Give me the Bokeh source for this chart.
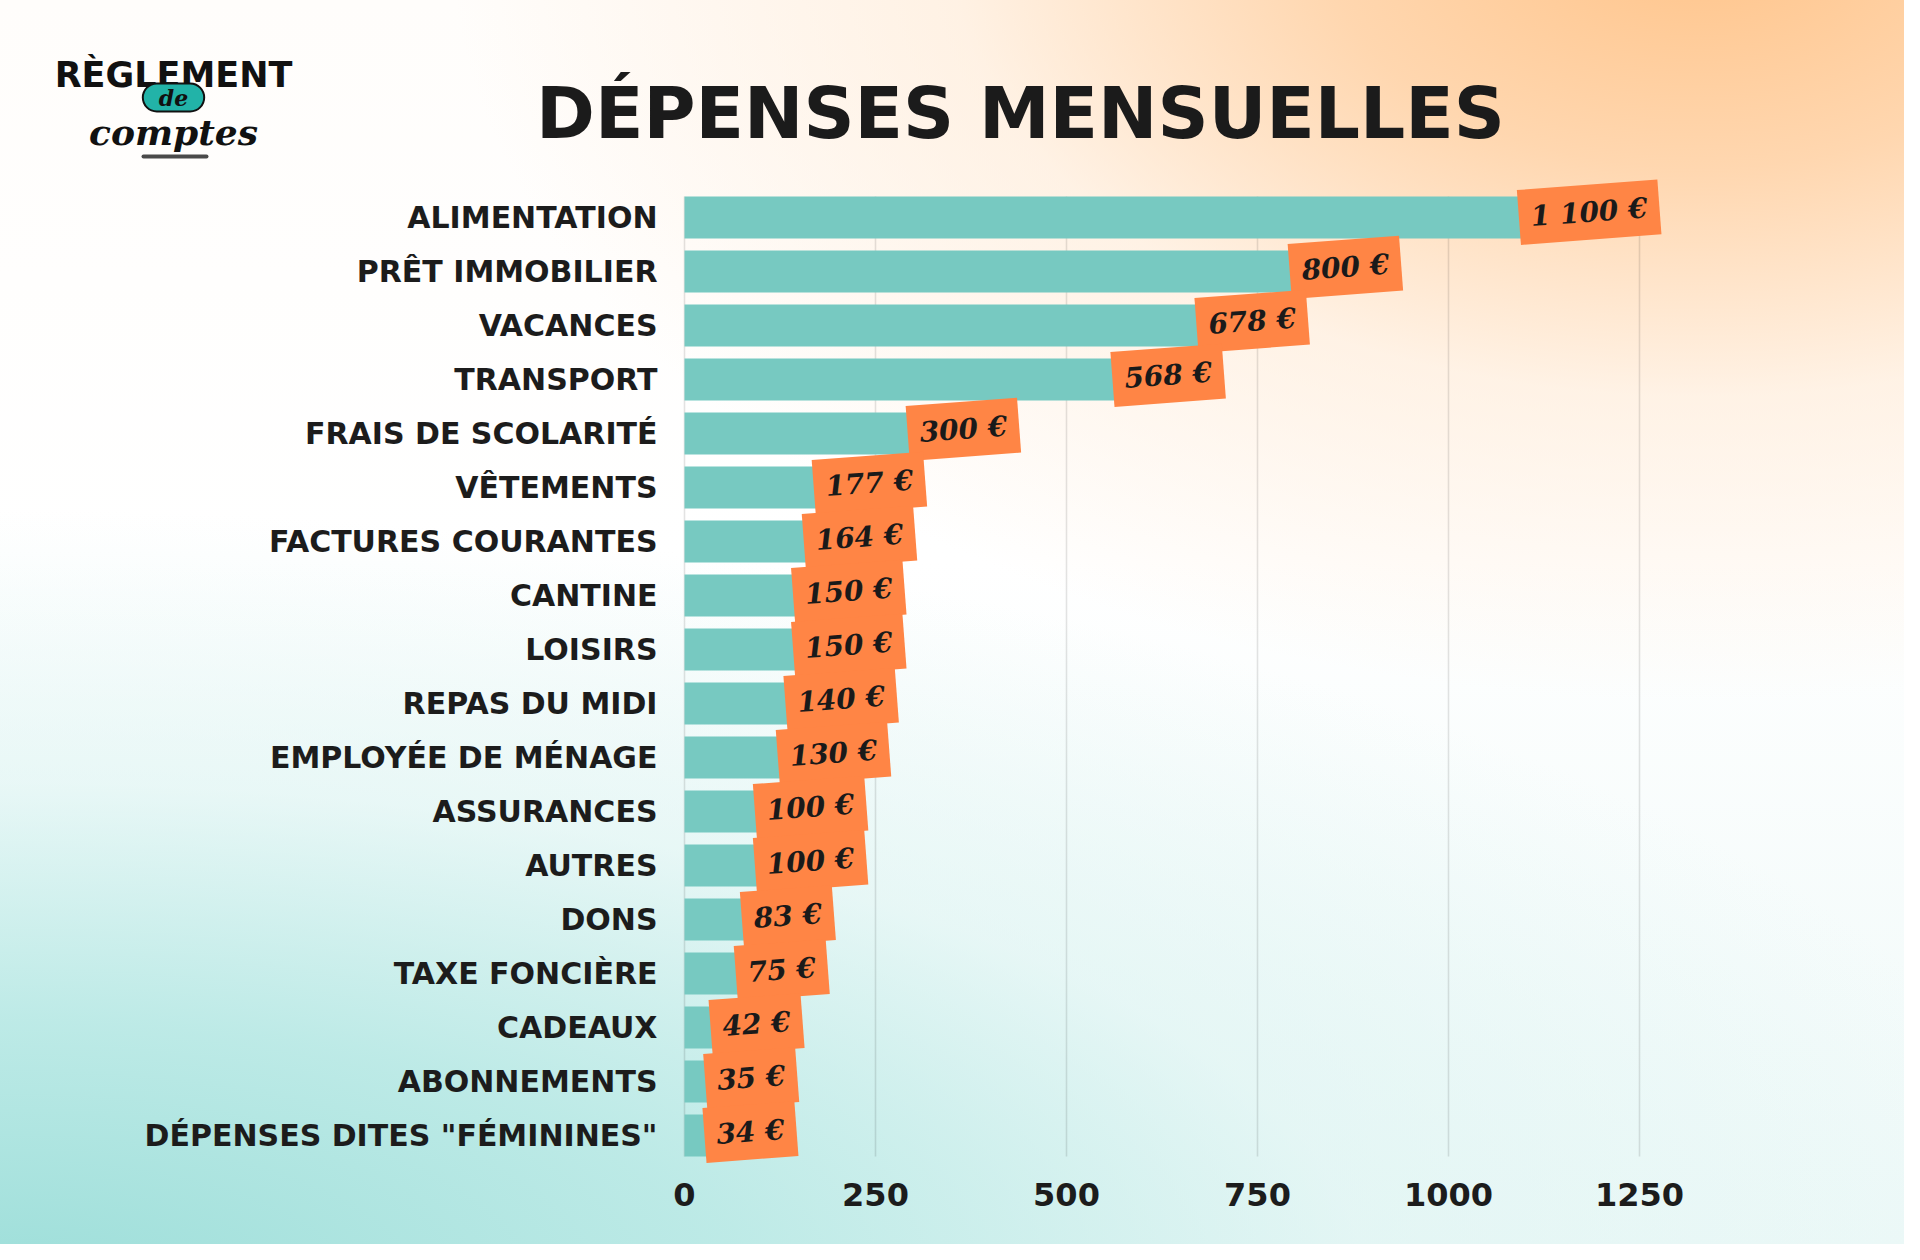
from bokeh.plotting import figure
from bokeh.models import Range1d, FixedTicker, Label, BoxAnnotation, ColumnDataSource
from bokeh.core.properties import value
from bokeh.embed import file_html
from bokeh.resources import INLINE

# ---------------- data ----------------
categories = [
    "ALIMENTATION", "PRÊT IMMOBILIER", "VACANCES", "TRANSPORT",
    "FRAIS DE SCOLARITÉ", "VÊTEMENTS", "FACTURES COURANTES", "CANTINE",
    "LOISIRS", "REPAS DU MIDI", "EMPLOYÉE DE MÉNAGE", "ASSURANCES",
    "AUTRES", "DONS", "TAXE FONCIÈRE", "CADEAUX", "ABONNEMENTS",
    'DÉPENSES DITES "FÉMININES"',
]
amounts = [1100, 800, 678, 568, 300, 177, 164, 150, 150, 140, 130, 100, 100, 83, 75, 42, 35, 34]
value_labels = ["1 100 €", "800 €", "678 €", "568 €", "300 €", "177 €", "164 €", "150 €",
                "150 €", "140 €", "130 €", "100 €", "100 €", "83 €", "75 €", "42 €", "35 €", "34 €"]
x_ticks = [0, 250, 500, 750, 1000, 1250]
title_text = "DÉPENSES MENSUELLES"
logo_top = "RÈGLEMENT"
logo_mid = "de"
logo_bottom = "comptes"

# ---------------- layout (pixel geometry of the canvas) ----------------
W, H = 1904, 1244
PX = 0.764          # pixels per euro
X0C = 684           # canvas x of 0 €
PY = 54.0           # pixels per category row
TOPC = 217          # canvas y of the first bar's centre
BAR_H = 0.78

n = len(categories)
ypos = [n - 1 - i for i in range(n)]

def dx(cx):
    return (cx - X0C) / PX

def dy(cy):
    return (n - 1) - (cy - TOPC) / PY

p = figure(width=W, height=H, output_backend="svg", toolbar_location=None,
           x_range=Range1d(dx(0), dx(W)), y_range=Range1d(dy(H), dy(0)), title=None,
           min_border_left=0, min_border_right=0, min_border_top=0, min_border_bottom=0)

p.border_fill_color = None
p.background_fill_color = None
p.outline_line_color = None
p.styles = {
    "background": (
        "radial-gradient(ellipse 1250px 760px at 1700px -60px, rgba(255,196,138,1) 0%, "
        "rgba(255,208,162,0.85) 30%, rgba(255,230,205,0.5) 60%, rgba(255,250,245,0) 100%), "
        "radial-gradient(ellipse 2100px 780px at 0px 1290px, rgba(156,222,217,1) 0%, "
        "rgba(182,232,228,0.88) 35%, rgba(218,243,241,0.55) 65%, rgba(255,255,255,0) 100%), "
        "linear-gradient(to bottom, #fffdfb 0%, #ffffff 45%, #eef9f8 100%)"
    )
}

# grid lines (span the bars only)
p.xgrid.visible = False
p.ygrid.visible = False
p.segment(x0=x_ticks, x1=x_ticks,
          y0=[ypos[-1] - BAR_H / 2] * len(x_ticks), y1=[ypos[0] + BAR_H / 2] * len(x_ticks),
          line_color="#000000", line_alpha=0.11, line_width=1.6, level="underlay")

src = ColumnDataSource(dict(cat=categories, y=ypos, amount=amounts, label=value_labels))

p.hbar(y="y", left=0, right="amount", height=BAR_H, source=src,
       fill_color="#77C9C1", line_color=None)

p.text(x="amount", y="y", text="label", source=src, angle=0.075,
       text_font=value("DejaVu Serif"), text_font_style="bold italic",
       text_font_size="28px", text_color="#1a1a1a",
       text_align="left", text_baseline="middle", x_offset=-6,
       background_fill_color="#FF8545", padding=(12, 11))

# axes (pinned inside the full-canvas frame)
p.yaxis.ticker = FixedTicker(ticks=ypos)
p.yaxis.major_label_overrides = {y: c for y, c in zip(ypos, categories)}
p.yaxis.fixed_location = 0
p.xaxis.ticker = FixedTicker(ticks=x_ticks)
p.xaxis.fixed_location = dy(1160)
for ax in (p.xaxis, p.yaxis):
    ax.axis_line_color = None
    ax.major_tick_line_color = None
    ax.minor_tick_line_color = None
    ax.major_label_text_font = "DejaVu Sans"
    ax.major_label_text_font_style = "bold"
    ax.major_label_text_color = "#1c1c1c"
p.yaxis.major_label_text_font_size = "30px"
p.yaxis.major_label_standoff = 21
p.xaxis.major_label_text_font_size = "32px"
p.xaxis.major_label_standoff = 16

# title
p.add_layout(Label(x=dx(1020), y=dy(113), text=title_text, text_font="DejaVu Sans",
                   text_font_style="bold", text_font_size="71px", text_color="#1b1b1b",
                   text_align="center", text_baseline="middle"))

# logo
p.add_layout(Label(x=dx(173), y=dy(74), text=logo_top, text_font="DejaVu Sans",
                   text_font_style="bold", text_font_size="35px", text_color="#111111",
                   text_align="center", text_baseline="middle"))
p.add_layout(Label(x=dx(173), y=dy(97), text=logo_mid, text_font="DejaVu Serif",
                   text_font_style="bold italic", text_font_size="22px", text_color="#111111",
                   text_align="center", text_baseline="middle",
                   background_fill_color="#22B3A8", border_line_color="#111111",
                   border_line_width=2, padding=(16, 1), border_radius=14))
p.add_layout(Label(x=dx(173), y=dy(131), text=logo_bottom, text_font="DejaVu Serif",
                   text_font_style="bold italic", text_font_size="36px", text_color="#111111",
                   text_align="center", text_baseline="alphabetic"))
p.add_layout(BoxAnnotation(left=dx(141), right=dx(208), top=dy(154), bottom=dy(158),
                           fill_color="#2a2a2a", fill_alpha=0.85, line_color=None,
                           border_radius=2))

open("out.html", "w").write(file_html(p, INLINE))
